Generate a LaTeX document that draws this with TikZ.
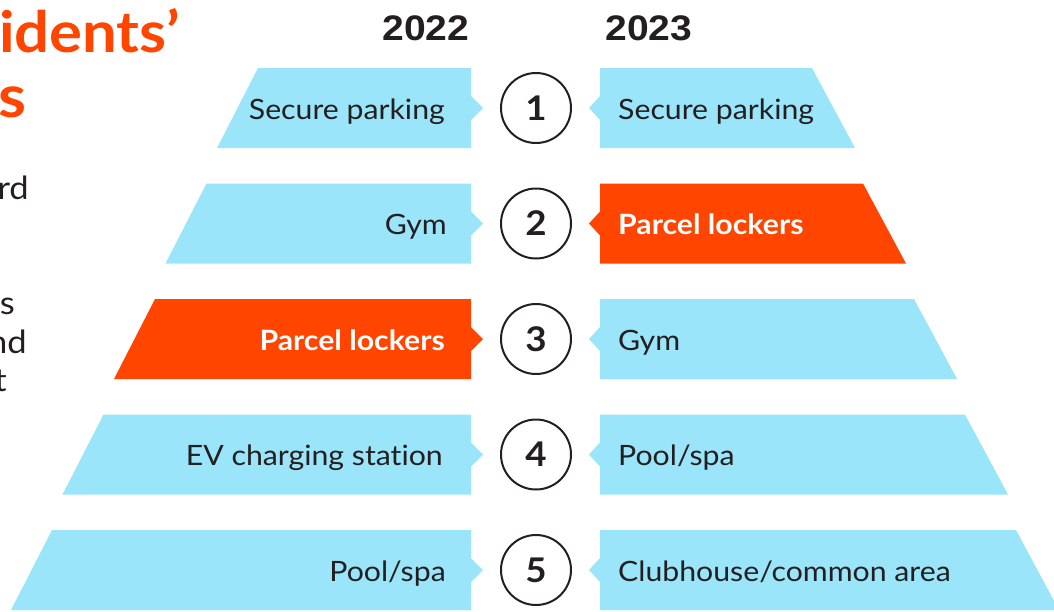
\documentclass[tikz,border=0pt]{standalone}
\usepackage{fontspec}
\setmainfont{Lato}[Ligatures=NoCommon, FakeStretch=1.08]
\newfontfamily\yearfont{Liberation Sans}[FakeStretch=1.1]
\usetikzlibrary{positioning}

\definecolor{barblue}{RGB}{154,229,249}
\definecolor{barorange}{RGB}{255,69,0}
\definecolor{inkgray}{RGB}{35,31,32}

\begin{document}
\begin{tikzpicture}[x=1pt, y=-1pt,
	barlabel/.style={inner sep=0pt, text=inkgray, font=\fontsize{28}{30}\selectfont},
	hotlabel/.style={barlabel, text=white, font=\fontsize{28}{30}\selectfont\bfseries},
	rankcircle/.style={circle, draw=inkgray, line width=2pt, minimum size=70pt, inner sep=0pt, text=inkgray, font=\fontsize{34}{36}\selectfont\bfseries},
	yearlabel/.style={inner sep=0pt, text=inkgray, font=\yearfont\fontsize{35.5}{38}\selectfont\bfseries},
	bodytext/.style={inner sep=0pt, text=inkgray, font=\fontsize{32}{38}\selectfont}]
	\useasboundingbox (0,0) rectangle (1054,611);

	% cut-off title and text on the left
	\node (title) [anchor=base west, inner sep=0pt, text=barorange, font=\fontsize{57}{66}\selectfont\bfseries] at (-1,52) {idents’};
	\node (titletail) [anchor=base west, inner sep=0pt, text=barorange, font=\fontsize{59}{66}\selectfont\bfseries] at (-2,117) {s};
	\node (body1) [bodytext, anchor=base east] at (29,199) {rd};
	\node (body2) [bodytext, anchor=base east] at (15,314) {ts};
	\node (body3) [bodytext, anchor=base east] at (27,353) {nd};
	\node (body4) [bodytext, anchor=base east] at (7,391) {t};

	% years
	\node (y2022) [yearlabel, anchor=base] at (426,40) {2022};
	\node (y2023) [yearlabel, anchor=base] at (649,40) {2023};

	% bars
	\foreach \i/\lc/\rc in {1/barblue/barblue, 2/barblue/barorange, 3/barorange/barblue, 4/barblue/barblue, 5/barblue/barblue}
	{
		\pgfmathsetmacro{\yc}{108+115.5*(\i-1)}
		\fill[\lc] ({258-51.5*(\i-1)},\yc-40) -- (471,\yc-40) -- (471,\yc-12) -- (483,\yc) -- (471,\yc+12) -- (471,\yc+40) -- ({217-51.5*(\i-1)},\yc+40) -- cycle;
		\fill[\rc] (600,\yc-40) -- ({812+51*(\i-1)},\yc-40) -- ({855+51*(\i-1)},\yc+40) -- (600,\yc+40) -- (600,\yc+12) -- (589,\yc) -- (600,\yc-12) -- cycle;
	}

	\node (left1) [barlabel, anchor=base east] at (445,119) {Secure parking};
	\node (left2) [barlabel, anchor=base east] at (447,234) {Gym};
	\node (left3) [hotlabel, anchor=base east] at (445,350) {Parcel lockers};
	\node (left4) [barlabel, anchor=base east] at (443,465) {EV charging station};
	\node (left5) [barlabel, anchor=base east] at (446,581) {Pool/spa};

	\node (right1) [barlabel, anchor=base west] at (618,119) {Secure parking};
	\node (right2) [hotlabel, anchor=base west] at (618,234) {Parcel lockers};
	\node (right3) [barlabel, anchor=base west] at (618,350) {Gym};
	\node (right4) [barlabel, anchor=base west] at (618,465) {Pool/spa};
	\node (right5) [barlabel, anchor=base west] at (618,581) {Clubhouse/common area};

	\node (rank1) [rankcircle] at (536,108) {1};
	\node (rank2) [rankcircle] at (536,223.5) {2};
	\node (rank3) [rankcircle] at (536,339) {3};
	\node (rank4) [rankcircle] at (536,454.5) {4};
	\node (rank5) [rankcircle] at (536,570) {5};
\end{tikzpicture}
\end{document}
